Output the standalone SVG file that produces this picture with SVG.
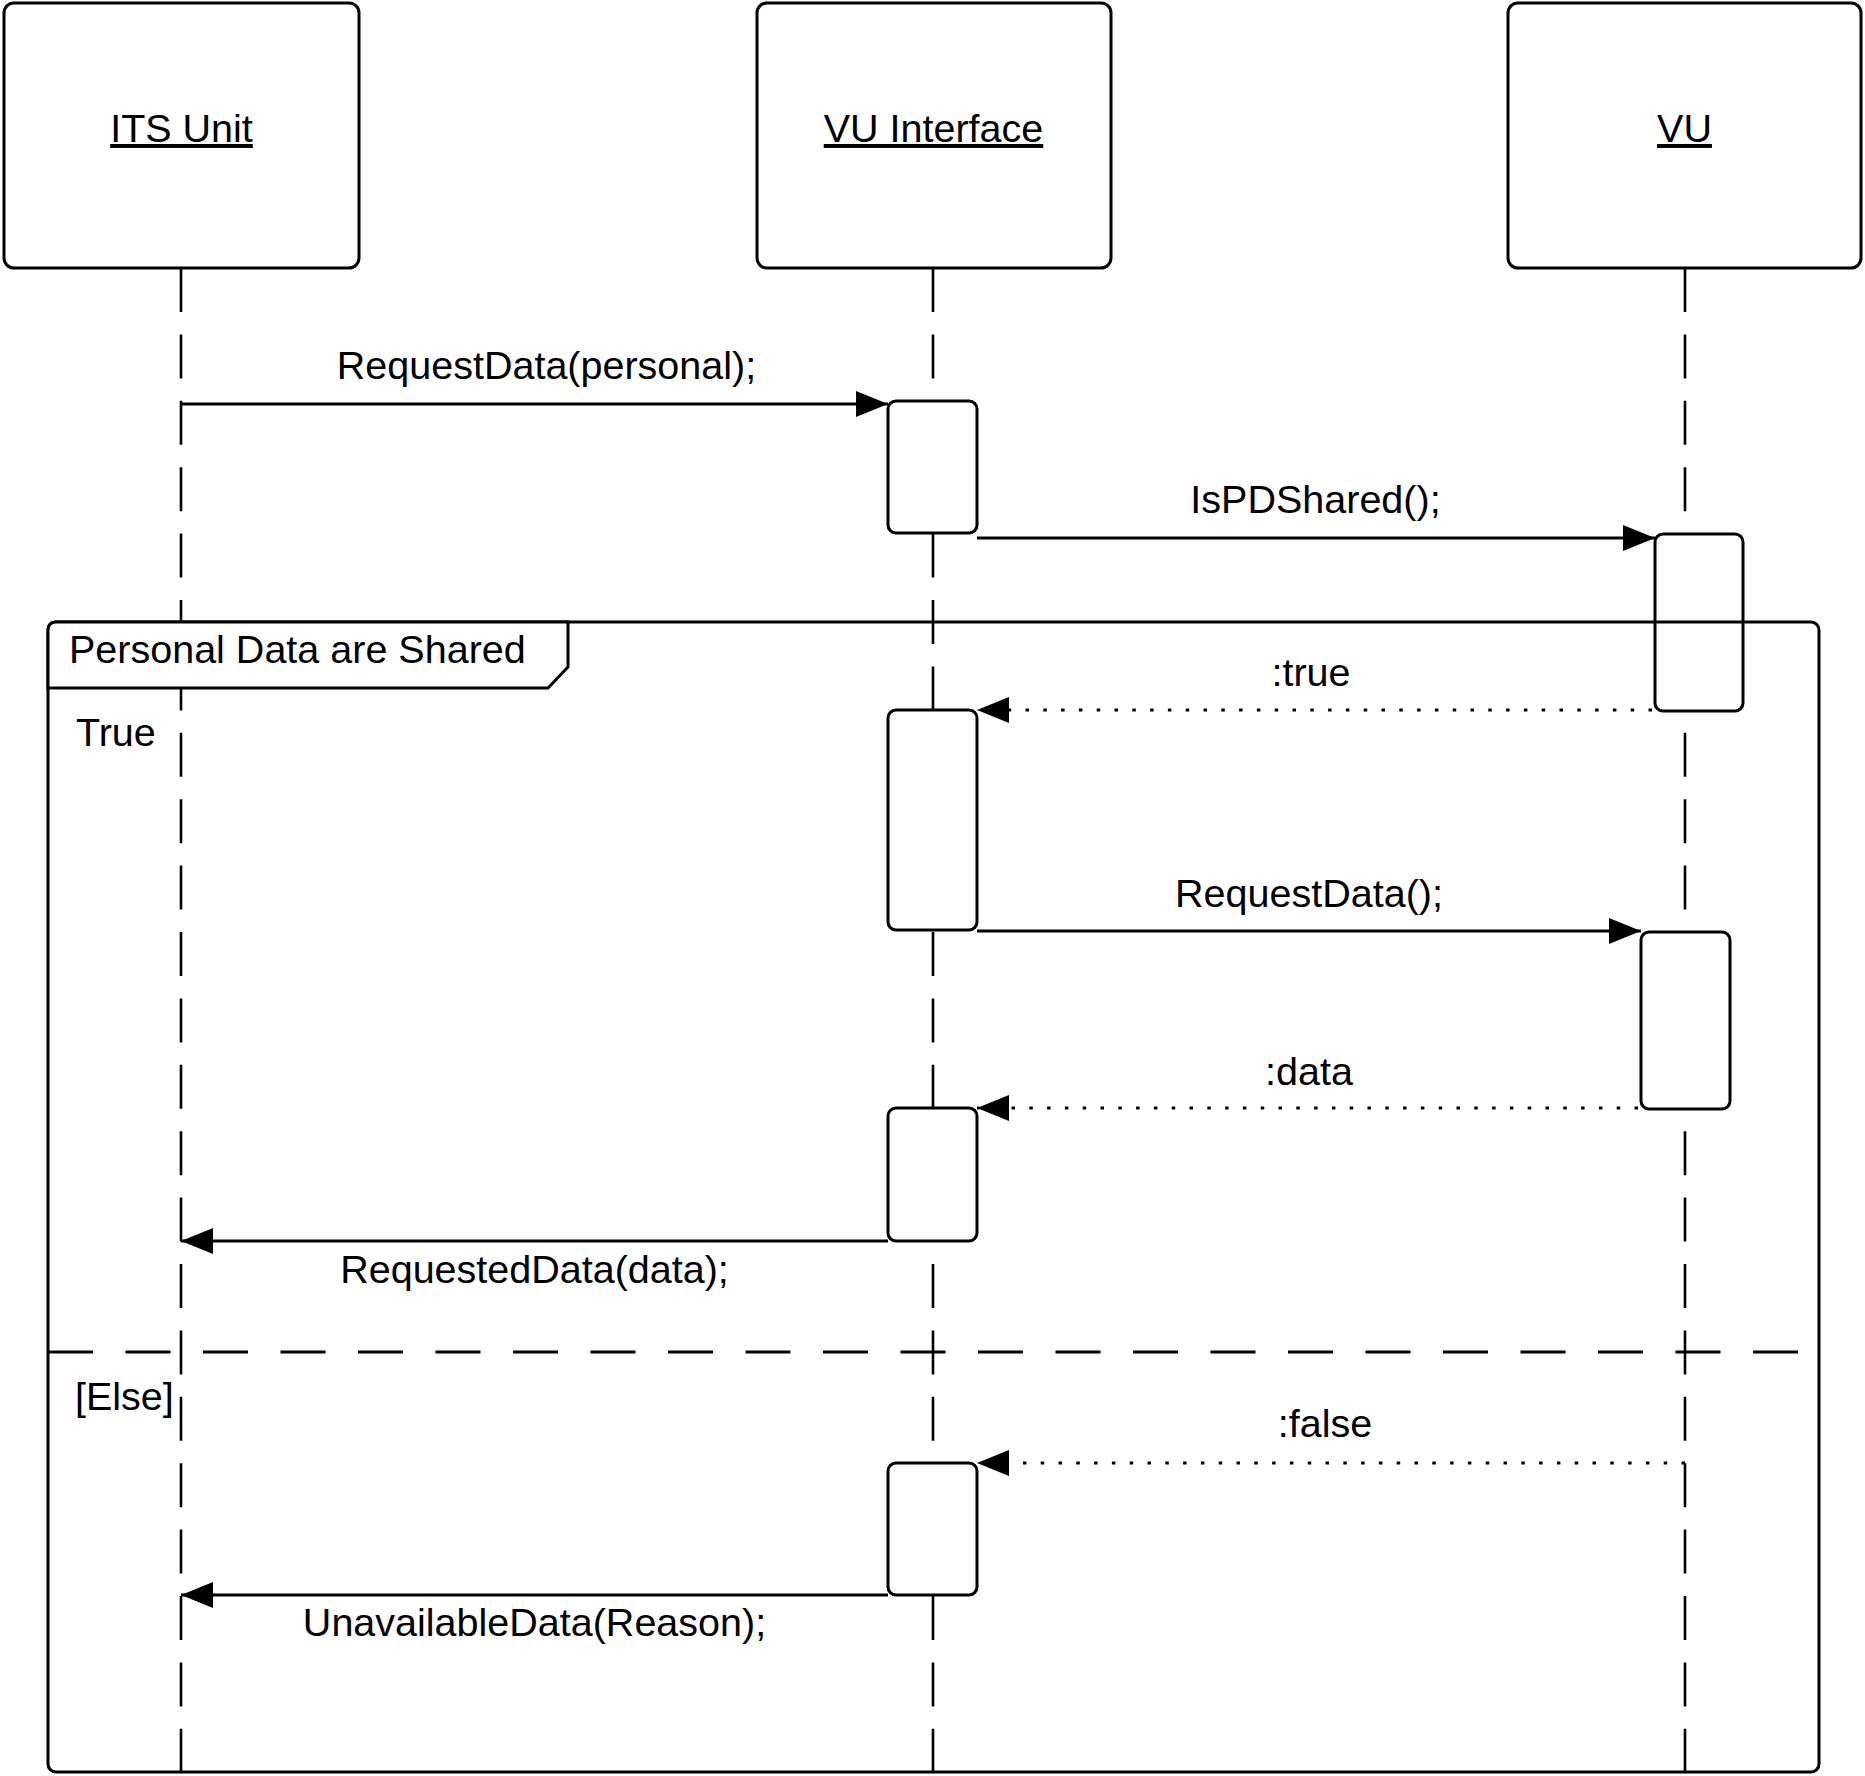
<svg xmlns="http://www.w3.org/2000/svg" width="1865" height="1776" viewBox="0 0 1865 1776">
  <style>
    text { font-family: "Liberation Sans", Arial, sans-serif; font-size: 39.5px; fill: #000; }
    .head { fill: #fff; stroke: #000; stroke-width: 3; }
    .title { text-anchor: middle; text-decoration: underline; }
    .life { stroke: #000; stroke-width: 2.6; stroke-dasharray: 44 22.4; fill: none; }
    .act { fill: #fff; stroke: #000; stroke-width: 3; }
    .frame { fill: none; stroke: #000; stroke-width: 3; }
    .flabel { fill: #fff; stroke: #000; stroke-width: 3; }
    .divider { stroke: #000; stroke-width: 3; stroke-dasharray: 45 32.5; fill: none; }
    .msg { stroke: #000; stroke-width: 3.2; fill: none; marker-end: url(#arrow); }
    .ret { stroke: #000; stroke-width: 3.2; fill: none; stroke-dasharray: 3.5 14.3; marker-end: url(#arrow); }
    .lbl { text-anchor: middle; }
  </style>
  <defs>
    <marker id="arrow" markerUnits="userSpaceOnUse" markerWidth="32" markerHeight="26" viewBox="0 0 32 26" refX="32" refY="13" orient="auto">
      <path d="M0,0 L32,13 L0,26 Z" fill="#000"/>
    </marker>
  </defs>
  <rect x="0" y="0" width="1865" height="1776" fill="#fff"/>

  <g id="its-unit">
    <line class="life" x1="181" y1="268" x2="181" y2="1772"/>
    <rect class="head" x="4" y="3" width="355" height="265" rx="10"/>
    <text class="title" x="181.5" y="142">ITS Unit</text>
  </g>

  <g id="vu-interface">
    <line class="life" x1="933" y1="268" x2="933" y2="1772"/>
    <rect class="head" x="757" y="3" width="354" height="265" rx="10"/>
    <text class="title" x="933.5" y="142">VU Interface</text>
  </g>

  <g id="vu">
    <line class="life" x1="1685" y1="268" x2="1685" y2="1772"/>
    <rect class="head" x="1508" y="3" width="353" height="265" rx="10"/>
    <text class="title" x="1684.5" y="142">VU</text>
  </g>

  <g id="activations">
    <rect id="act-vui-1" class="act" x="888" y="401" width="89" height="132" rx="8"/>
    <rect id="act-vu-1" class="act" x="1655" y="534" width="88" height="177" rx="8"/>
    <rect id="act-vui-2" class="act" x="888" y="710" width="89" height="220" rx="8"/>
    <rect id="act-vu-2" class="act" x="1641" y="932" width="89" height="177" rx="8"/>
    <rect id="act-vui-3" class="act" x="888" y="1108" width="89" height="133" rx="8"/>
    <rect id="act-vui-4" class="act" x="888" y="1463" width="89" height="132" rx="8"/>
  </g>

  <g id="alt-frame">
    <rect class="frame" x="48" y="622" width="1771" height="1150" rx="8"/>
    <path class="flabel" d="M48,630 Q48,622 56,622 L568,622 L568,667 L548,688 L48,688 Z"/>
    <text x="69" y="663">Personal Data are Shared</text>
    <text x="76" y="746">True</text>
    <line class="divider" x1="48" y1="1352" x2="1819" y2="1352"/>
    <text x="75" y="1410">[Else]</text>
  </g>

  <g id="connectors">
    <line class="msg" x1="181" y1="404" x2="888" y2="404"/>
    <text class="lbl" x="546.5" y="379">RequestData(personal);</text>

    <line class="msg" x1="977" y1="538" x2="1655" y2="538"/>
    <text class="lbl" x="1315.5" y="513">IsPDShared();</text>

    <line class="ret" x1="1652" y1="710" x2="977" y2="710"/>
    <text class="lbl" x="1311" y="686">:true</text>

    <line class="msg" x1="977" y1="931" x2="1641" y2="931"/>
    <text class="lbl" x="1309" y="907">RequestData();</text>

    <line class="ret" x1="1638" y1="1108" x2="977" y2="1108"/>
    <text class="lbl" x="1309" y="1085">:data</text>

    <line class="msg" x1="888" y1="1241" x2="181" y2="1241"/>
    <text class="lbl" x="534.5" y="1283">RequestedData(data);</text>

    <line class="ret" x1="1685" y1="1463" x2="977" y2="1463"/>
    <text class="lbl" x="1325" y="1437">:false</text>

    <line class="msg" x1="888" y1="1595" x2="181" y2="1595"/>
    <text class="lbl" x="534.5" y="1636">UnavailableData(Reason);</text>
  </g>
</svg>
